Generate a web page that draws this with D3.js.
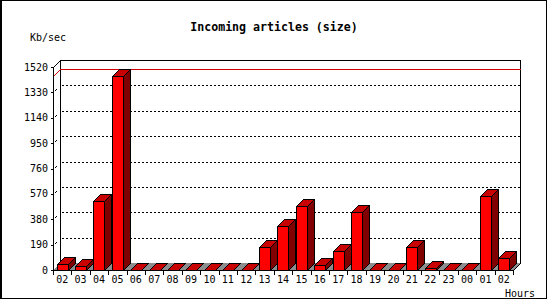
<!DOCTYPE html>
<html>
<head>
<meta charset="utf-8">
<script src="https://cdn.jsdelivr.net/npm/d3@7"></script>
<style>
  body { margin: 0; background: #fff; }
  svg { display: block; }
  text { font-family: "DejaVu Sans Mono", monospace; fill: #000; }
</style>
</head>
<body>
<svg id="chart" width="550" height="300"></svg>
<script>
// data
const hours = ["02","03","04","05","06","07","08","09","10","11","12","13","14",
               "15","16","17","18","19","20","21","22","23","00","01","02"];
const sizes = [43, 28, 515, 1453, 0, 0, 0, 0, 0, 0, 0, 175, 328,
               478, 35, 140, 435, 0, 0, 170, 15, 0, 0, 552, 88];
const yTicks = [0, 190, 380, 570, 760, 950, 1140, 1330, 1520];
const title = "Incoming articles (size)";
const yLabel = "Kb/sec";
const xLabel = "Hours";

const svg = d3.select("#chart").attr("shape-rendering", "crispEdges");
const depth = 7;

const x = d3.scaleBand()
    .domain(d3.range(hours.length))
    .range([53, 513])
    .paddingInner(0.4)
    .paddingOuter(0.2);

const y = d3.scaleLinear()
    .domain([0, 1520])
    .range([270, 67]);

const left = 53, right = 513, base = y(0);
const r = v => Math.round(v) + 0.5;

// outer frame
svg.append("rect")
    .attr("x", 0.5).attr("y", 0.5)
    .attr("width", 546).attr("height", 298)
    .style("fill", "#fff").style("stroke", "#000");
svg.append("line")
    .attr("x1", 1.5).attr("x2", 1.5).attr("y1", 0).attr("y2", 299)
    .style("stroke", "#000");

// back wall
const back = svg.append("g").style("stroke", "#000").style("fill", "none");
back.append("path")
    .attr("d", "M" + r(left + depth) + "," + r(y(0) - depth) +
               "V" + r(y(1520) - depth) +
               "H" + r(right + depth) +
               "V" + r(y(0) - depth));
back.append("line")
    .attr("x1", r(left)).attr("y1", r(y(1520)))
    .attr("x2", r(left + depth)).attr("y2", r(y(1520) - depth));

// dashed grid on back wall
svg.selectAll("line.grid")
    .data(yTicks.filter(d => d > 0 && d < 1520))
    .enter().append("line")
    .attr("class", "grid")
    .attr("x1", r(left + depth) + 1)
    .attr("x2", r(right + depth) - 1)
    .attr("y1", d => r(y(d) - depth))
    .attr("y2", d => r(y(d) - depth))
    .style("stroke", "#000")
    .style("stroke-dasharray", "2,2");

// small marks from front axis toward the back
svg.selectAll("line.mark")
    .data(yTicks.filter(d => d > 0 && d < 1520))
    .enter().append("line")
    .attr("class", "mark")
    .attr("x1", r(left) + 1).attr("y1", d => r(y(d)) - 1)
    .attr("x2", r(left) + 3).attr("y2", d => r(y(d)) - 3)
    .style("stroke", "#000");

// max line
const maxVal = d3.max(sizes);
svg.append("path")
    .attr("d", "M" + r(left) + "," + r(y(maxVal)) +
               "L" + r(left + depth) + "," + r(y(maxVal) - depth) +
               "H" + r(right + depth))
    .style("fill", "none")
    .style("stroke", "#d00000");

// floor
svg.append("path")
    .attr("d", "M" + left + "," + base + "L" + (left + depth) + "," + (base - depth) +
               "L" + (right + depth) + "," + (base - depth) + "L" + right + "," + base + "Z")
    .style("fill", "#8c8c8c");

// bars
const bw = Math.round(x.bandwidth());
const bars = svg.selectAll("g.bar")
    .data(sizes)
    .enter().append("g")
    .attr("class", "bar")
    .style("stroke", "#000");

bars.append("path")   // side
    .attr("d", (d, i) => {
        const x1 = r(x(i)) + bw, t = r(y(d));
        return "M" + x1 + "," + t + "L" + (x1 + depth) + "," + (t - depth) +
               "V" + (r(base) - depth) + "L" + x1 + "," + r(base) + "Z";
    })
    .style("fill", "#800000");

bars.append("path")   // top
    .attr("d", (d, i) => {
        const x0 = r(x(i)), t = r(y(d));
        return "M" + x0 + "," + t + "L" + (x0 + depth) + "," + (t - depth) +
               "H" + (x0 + bw + depth) + "L" + (x0 + bw) + "," + t + "Z";
    })
    .style("fill", "#c80000");

bars.append("rect")   // front
    .attr("x", (d, i) => r(x(i)))
    .attr("y", d => r(y(d)))
    .attr("width", bw)
    .attr("height", d => r(base) - r(y(d)))
    .style("fill", "#ff0000");

// front axes
const axes = svg.append("g").style("stroke", "#000").style("fill", "none");
axes.append("line")
    .attr("x1", r(left)).attr("x2", r(left))
    .attr("y1", r(y(1520))).attr("y2", r(base) + 4);
axes.append("line")
    .attr("x1", r(left) - 3).attr("x2", r(right))
    .attr("y1", r(base)).attr("y2", r(base));
axes.append("line")
    .attr("x1", r(right)).attr("y1", r(base))
    .attr("x2", r(right + depth)).attr("y2", r(base - depth));

// y ticks and labels
axes.selectAll("line.ytick")
    .data(yTicks)
    .enter().append("line")
    .attr("class", "ytick")
    .attr("x1", r(left) - 3).attr("x2", r(left))
    .attr("y1", d => r(y(d))).attr("y2", d => r(y(d)));

svg.selectAll("text.ylab")
    .data(yTicks)
    .enter().append("text")
    .attr("class", "ylab")
    .attr("x", 48)
    .attr("y", d => y(d))
    .attr("dy", "0.35em")
    .style("text-anchor", "end")
    .style("font-size", "10px")
    .text(d => d);

// x ticks and labels
axes.selectAll("line.xtick")
    .data(d3.range(hours.length + 1))
    .enter().append("line")
    .attr("class", "xtick")
    .attr("x1", i => r(left + i * x.step()))
    .attr("x2", i => r(left + i * x.step()))
    .attr("y1", r(base)).attr("y2", r(base) + 4);

svg.selectAll("text.xlab")
    .data(hours)
    .enter().append("text")
    .attr("class", "xlab")
    .attr("x", (d, i) => left + (i + 0.5) * x.step())
    .attr("y", 279)
    .attr("dy", "0.35em")
    .style("text-anchor", "middle")
    .style("font-size", "10px")
    .text(d => d);

// titles
svg.append("text")
    .attr("x", 274).attr("y", 27).attr("dy", "0.35em")
    .style("text-anchor", "middle")
    .style("font-size", "11.6px")
    .style("font-weight", "bold")
    .text(title);

svg.append("text")
    .attr("x", 30).attr("y", 37).attr("dy", "0.35em")
    .style("font-size", "10px")
    .text(yLabel);

svg.append("text")
    .attr("x", 505).attr("y", 293).attr("dy", "0.35em")
    .style("font-size", "10px")
    .text(xLabel);
</script>
</body>
</html>
